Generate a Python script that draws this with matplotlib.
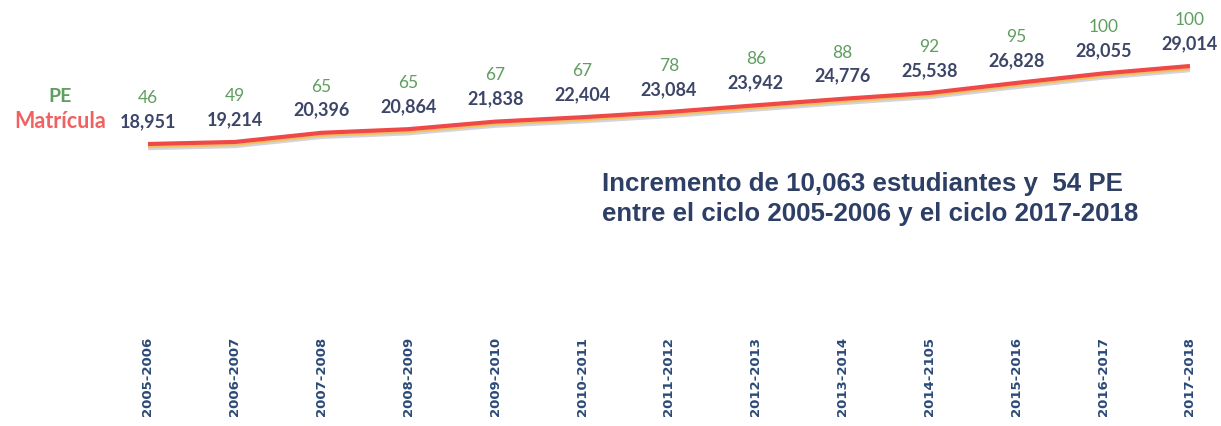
import matplotlib
matplotlib.use("Agg")
import matplotlib.pyplot as plt
from matplotlib import font_manager as fm
import matplotlib.patheffects as pe

ciclos = ["2005-2006", "2006-2007", "2007-2008", "2008-2009", "2009-2010",
          "2010-2011", "2011-2012", "2012-2013", "2013-2014", "2014-2105",
          "2015-2016", "2016-2017", "2017-2018"]
matricula = [18951, 19214, 20396, 20864, 21838, 22404, 23084, 23942,
             24776, 25538, 26828, 28055, 29014]
pe_count = [46, 49, 65, 65, 67, 67, 78, 86, 88, 92, 95, 100, 100]

names = {f.name for f in fm.fontManager.ttflist}
narrow = "Liberation Sans Narrow" if "Liberation Sans Narrow" in names else "Liberation Sans"
label_font = "Lato" if "Lato" in names else "DejaVu Sans"

W, H, DPI = 1221, 427, 100
fig = plt.figure(figsize=(W / DPI, H / DPI), dpi=DPI)
fig.patch.set_facecolor("white")

ax_bottom_px = 330
ax = fig.add_axes([0, 1 - ax_bottom_px / H, 1, ax_bottom_px / H])
ax.set_facecolor("none")

x0_px, step_px = 148, 86.83
ax.set_xlim(-x0_px / step_px, (W - x0_px) / step_px)
y0_px, slope = 145, 0.00775
ax.set_ylim(matricula[0] - (ax_bottom_px - y0_px) / slope, matricula[0] + y0_px / slope)

xs = list(range(len(ciclos)))

ax.plot(xs, matricula, color="#f04848", lw=3.0, solid_capstyle="butt", zorder=3,
        path_effects=[pe.SimpleLineShadow(offset=(0, -3), shadow_color="#b8b4c8", alpha=0.6, linewidth=3),
                      pe.SimpleLineShadow(offset=(0, -1.5), shadow_color="#f5c040", alpha=0.8, linewidth=3),
                      pe.Normal()])

for x, m, p in zip(xs, matricula, pe_count):
    ax.annotate(f"{m:,}", (x, m), xytext=(0, 17), textcoords="offset points",
                ha="center", va="center", fontsize=13, fontweight="bold",
                color="#3d4668", family=label_font)
    ax.annotate(f"{p}", (x, m), xytext=(0, 34), textcoords="offset points",
                ha="center", va="center", fontsize=12.5, color="#5e9e5e",
                family=label_font)

ax.set_xticks(xs)
ax.set_xticklabels(ciclos, rotation=90, fontsize=9.5, fontweight="bold",
                   color="#2c4a78", family="DejaVu Sans")
ax.tick_params(axis="x", length=0, pad=5)
ax.set_yticks([])
for s in ax.spines.values():
    s.set_visible(False)

fig.text(60 / W, 1 - 97 / H, "PE", ha="center", va="center", fontsize=14,
         color="#5e9e5e", family=label_font, fontweight="bold")
fig.text(60 / W, 1 - 121 / H, "Matrícula", ha="center", va="center", fontsize=15.5,
         color="#f06262", family=label_font, fontweight="bold")

fig.text(602 / W, 1 - 172 / H,
         "Incremento de 10,063 estudiantes y  54 PE\nentre el ciclo 2005-2006 y el ciclo 2017-2018",
         ha="left", va="top", fontsize=18.6, fontweight="bold", color="#2e3f66",
         family=narrow, linespacing=1.3)

fig.savefig("out.png", dpi=DPI, facecolor="white")
